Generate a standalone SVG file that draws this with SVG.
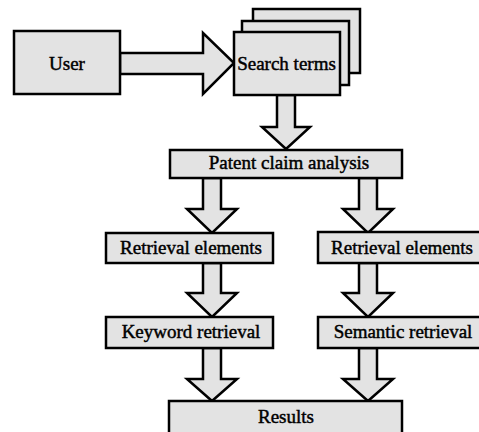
<svg xmlns="http://www.w3.org/2000/svg" width="479" height="432" viewBox="0 0 479 432">
<style>
.box{fill:#e3e3e3;stroke:#000;stroke-width:2.5}
.arr{fill:#e3e3e3;stroke:#000;stroke-width:2.5;stroke-linejoin:miter}
.t{font-family:'Liberation Serif','Times New Roman',serif;font-size:19px;fill:#000;stroke:#000;stroke-width:0.45;text-anchor:middle}
</style>
<rect width="479" height="432" fill="#fff"/>
<g id="connectors">
<polygon class="arr" points="120,53 203,53 203,33 234,63 203,94 203,74 120,74"/>
<polygon class="arr" points="277,95 295,95 295,127 310,127 286,149 262,127 277,127"/>
<polygon class="arr" points="203,178 221,178 221,209 237,209 212,233 187,209 203,209"/>
<polygon class="arr" points="359,178 377,178 377,209 393,209 368,233 343,209 359,209"/>
<polygon class="arr" points="203,263 221,263 221,293 237,293 212,317 187,293 203,293"/>
<polygon class="arr" points="359,263 377,263 377,293 393,293 368,317 343,293 359,293"/>
<polygon class="arr" points="203,348 221,348 221,379 237,379 212,401 187,379 203,379"/>
<polygon class="arr" points="359,348 377,348 377,379 393,379 368,401 343,379 359,379"/>
</g>
<g id="user"><rect class="box" x="14" y="31" width="106" height="63"/><text class="t" x="67" y="70">User</text></g>
<g id="search-terms">
<rect class="box" x="253" y="9" width="107" height="64"/>
<rect class="box" x="242" y="21" width="107" height="64"/>
<rect class="box" x="234" y="32" width="106" height="63"/>
<text class="t" x="286.5" y="70">Search terms</text>
</g>
<g id="patent"><rect class="box" x="170" y="150" width="232" height="28"/><text class="t" x="289" y="169">Patent claim analysis</text></g>
<g id="retrieval-left"><rect class="box" x="106" y="233" width="167" height="30"/><text class="t" x="191" y="254">Retrieval elements</text></g>
<g id="retrieval-right"><rect class="box" x="318" y="232" width="163" height="31"/><text class="t" x="402" y="254">Retrieval elements</text></g>
<g id="keyword"><rect class="box" x="106" y="317" width="167" height="31"/><text class="t" x="191" y="338">Keyword retrieval</text></g>
<g id="semantic"><rect class="box" x="318" y="317" width="163" height="31"/><text class="t" x="403" y="338">Semantic retrieval</text></g>
<g id="results"><rect class="box" x="169" y="401" width="233" height="40"/><text class="t" x="286" y="423">Results</text></g>
</svg>
